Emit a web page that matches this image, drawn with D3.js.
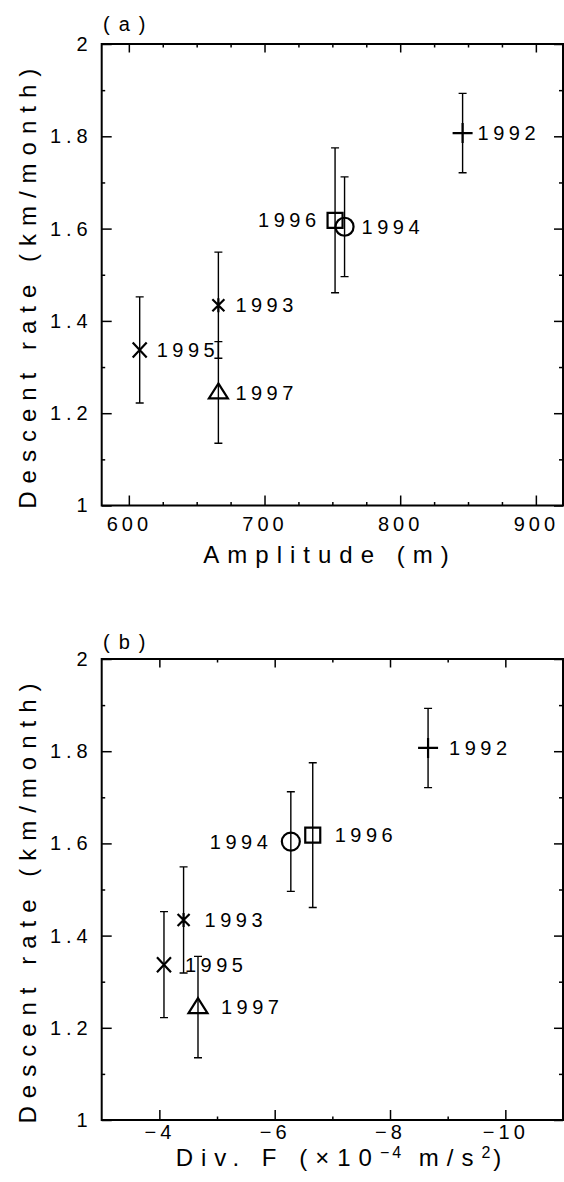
<!DOCTYPE html>
<html>
<head>
<meta charset="utf-8">
<script src="https://cdn.jsdelivr.net/npm/d3@7"></script>
<style>
  body { margin: 0; background: #fff; }
  svg { display: block; font-family: "Liberation Sans", Arial, sans-serif; }
</style>
</head>
<body>
<svg id="chart" width="564" height="1182"></svg>
<script>
// values
const years = ['1992', '1993', '1994', '1995', '1996', '1997'];
const rate = [1.807, 1.434, 1.604, 1.337, 1.618, 1.245];
const rateErr = [0.086, 0.115, 0.108, 0.115, 0.157, 0.11];
const amplitude = [846, 666, 759, 608, 752, 666];
const divF = [-8.66, -4.42, -6.28, -4.08, -6.66, -4.67];
const symbols = ['plus', 'asterisk', 'circle', 'cross', 'square', 'triangle'];

const rateTicks = [1, 1.2, 1.4, 1.6, 1.8, 2];
const rateMinor = [1.1, 1.3, 1.5, 1.7, 1.9];
const ampTicks = [600, 700, 800, 900];
const ampMinor = [625, 650, 675, 725, 750, 775, 825, 850, 875];
const divTicks = [-4, -6, -8, -10];
const divMinor = [-5, -7, -9];

const svg = d3.select('#chart');
svg.append('rect').attr('width', 564).attr('height', 1182).attr('fill', '#fff');

const left = 101.7, right = 563;

const panels = [
  { tag: '(a)', xs: amplitude, domain: [580, 920], ticks: ampTicks, minor: ampMinor,
    top: 44, bottom: 505.5, tickPad: 11, tagY: 30.7,
    title: 'Amplitude (m)', titleX: 330, titleY: 562.6,
    labelDx: [15, 17, 17, 17, -19, 17] },
  { tag: '(b)', xs: divF, domain: [-3, -11], ticks: divTicks, minor: divMinor,
    top: 659, bottom: 1120, tickPad: 5, tagY: 649,
    title: null, titleX: 342.5, titleY: 1166,
    labelDx: [21, 21, -23, 21, 22, 23] }
];

function symbolPath(type, cx, cy) {
  const p = d3.path();
  if (type === 'plus') {
    p.moveTo(cx - 10, cy); p.lineTo(cx + 10, cy);
    p.moveTo(cx, cy - 10); p.lineTo(cx, cy + 10);
  } else if (type === 'asterisk') {
    p.moveTo(cx - 6, cy - 6); p.lineTo(cx + 6, cy + 6);
    p.moveTo(cx - 6, cy + 6); p.lineTo(cx + 6, cy - 6);
    p.moveTo(cx, cy - 7); p.lineTo(cx, cy + 7);
  } else if (type === 'cross') {
    p.moveTo(cx - 7, cy - 7.5); p.lineTo(cx + 7, cy + 7.5);
    p.moveTo(cx - 7, cy + 7.5); p.lineTo(cx + 7, cy - 7.5);
  } else if (type === 'circle') {
    p.moveTo(cx + 9, cy); p.arc(cx, cy, 9, 0, 2 * Math.PI);
  } else if (type === 'square') {
    p.rect(cx - 7.5, cy - 7.5, 15, 15);
  } else if (type === 'triangle') {
    p.moveTo(cx, cy - 9); p.lineTo(cx + 9.5, cy + 6); p.lineTo(cx - 9.5, cy + 6); p.closePath();
  }
  return p.toString();
}

panels.forEach(function(pn) {
  const g = svg.append('g');
  const x = d3.scaleLinear().domain(pn.domain).range([left, right]);
  const y = d3.scaleLinear().domain([1, 2]).range([pn.bottom, pn.top]);

  const styleAxis = function(sel) {
    sel.select('.domain').remove();
    sel.selectAll('line').attr('stroke', '#000').attr('stroke-width', 1.5);
    sel.selectAll('text').attr('fill', '#000');
  };

  // bottom: major with labels, then minor
  g.append('g').attr('transform', `translate(0,${pn.bottom})`)
    .call(d3.axisBottom(x).tickValues(pn.ticks).tickSizeInner(-10).tickSizeOuter(0)
      .tickPadding(pn.tickPad).tickFormat(d3.format('~g')))
    .call(styleAxis)
    .selectAll('text').attr('font-size', 20).attr('letter-spacing', 4);
  g.append('g').attr('transform', `translate(0,${pn.bottom})`)
    .call(d3.axisBottom(x).tickValues(pn.minor).tickSizeInner(-3.5).tickSizeOuter(0).tickFormat(''))
    .call(styleAxis);
  // top
  g.append('g').attr('transform', `translate(0,${pn.top})`)
    .call(d3.axisTop(x).tickValues(pn.ticks).tickSizeInner(-8.5).tickSizeOuter(0).tickFormat(''))
    .call(styleAxis);
  g.append('g').attr('transform', `translate(0,${pn.top})`)
    .call(d3.axisTop(x).tickValues(pn.minor).tickSizeInner(-3.5).tickSizeOuter(0).tickFormat(''))
    .call(styleAxis);
  // left
  g.append('g').attr('transform', `translate(${left},0)`)
    .call(d3.axisLeft(y).tickValues(rateTicks).tickSizeInner(-10).tickSizeOuter(0)
      .tickPadding(9).tickFormat(d3.format('~g')))
    .call(styleAxis)
    .selectAll('text').attr('font-size', 20).attr('letter-spacing', 5);
  g.append('g').attr('transform', `translate(${left},0)`)
    .call(d3.axisLeft(y).tickValues(rateMinor).tickSizeInner(-3.5).tickSizeOuter(0).tickFormat(''))
    .call(styleAxis);
  // right
  g.append('g').attr('transform', `translate(${right},0)`)
    .call(d3.axisRight(y).tickValues(rateTicks).tickSizeInner(-9).tickSizeOuter(0).tickFormat(''))
    .call(styleAxis);
  g.append('g').attr('transform', `translate(${right},0)`)
    .call(d3.axisRight(y).tickValues(rateMinor).tickSizeInner(-4).tickSizeOuter(0).tickFormat(''))
    .call(styleAxis);

  // frame
  g.append('rect')
    .attr('x', left).attr('y', pn.top)
    .attr('width', right - left).attr('height', pn.bottom - pn.top)
    .attr('fill', 'none').attr('stroke', '#000').attr('stroke-width', 2);

  // panel tag
  g.append('text').attr('x', 103).attr('y', pn.tagY)
    .attr('font-size', 20).attr('letter-spacing', 9).text(pn.tag);

  // y title
  g.append('text')
    .attr('transform', `translate(36,${(pn.top + pn.bottom) / 2 + 10}) rotate(-90)`)
    .attr('text-anchor', 'middle').attr('font-size', 24).attr('letter-spacing', 8)
    .text('Descent rate (km/month)');

  // x title
  const xt = g.append('text').attr('x', pn.titleX).attr('y', pn.titleY)
    .attr('text-anchor', 'middle').attr('font-size', 24).attr('letter-spacing', 8);
  if (pn.title) {
    xt.text(pn.title);
  } else {
    xt.append('tspan').text('Div. F (\u00d710');
    xt.append('tspan').attr('font-size', 16).attr('dy', -8).attr('letter-spacing', 3).text('\u22124');
    xt.append('tspan').attr('dy', 8).text(' m/s');
    xt.append('tspan').attr('font-size', 16).attr('dy', -8).attr('letter-spacing', 3).text('2');
    xt.append('tspan').attr('dy', 8).text(')');
  }

  // error bars
  const idx = d3.range(years.length);
  const eb = g.append('g').attr('stroke', '#000').attr('stroke-width', 1.4).attr('fill', 'none');
  eb.selectAll('path').data(idx).enter().append('path')
    .attr('d', function(i) {
      const cx = x(pn.xs[i]);
      const y0 = y(rate[i] - rateErr[i]), y1 = y(rate[i] + rateErr[i]);
      return `M${cx},${y0}V${y1}M${cx - 4},${y0}H${cx + 4}M${cx - 4},${y1}H${cx + 4}`;
    });

  // markers
  g.append('g').selectAll('path').data(idx).enter().append('path')
    .attr('d', i => symbolPath(symbols[i], x(pn.xs[i]), y(rate[i])))
    .attr('fill', 'none').attr('stroke', '#000').attr('stroke-width', 2.2);

  // year labels
  g.append('g').selectAll('text').data(idx).enter().append('text')
    .attr('x', i => x(pn.xs[i]) + (pn.labelDx[i] < 0 ? pn.labelDx[i] + 4.5 : pn.labelDx[i]))
    .attr('y', i => y(rate[i]))
    .attr('dy', '0.36em')
    .attr('text-anchor', i => pn.labelDx[i] < 0 ? 'end' : 'start')
    .attr('font-size', 20).attr('letter-spacing', 4.5)
    .text(i => years[i]);
});
</script>
</body>
</html>
